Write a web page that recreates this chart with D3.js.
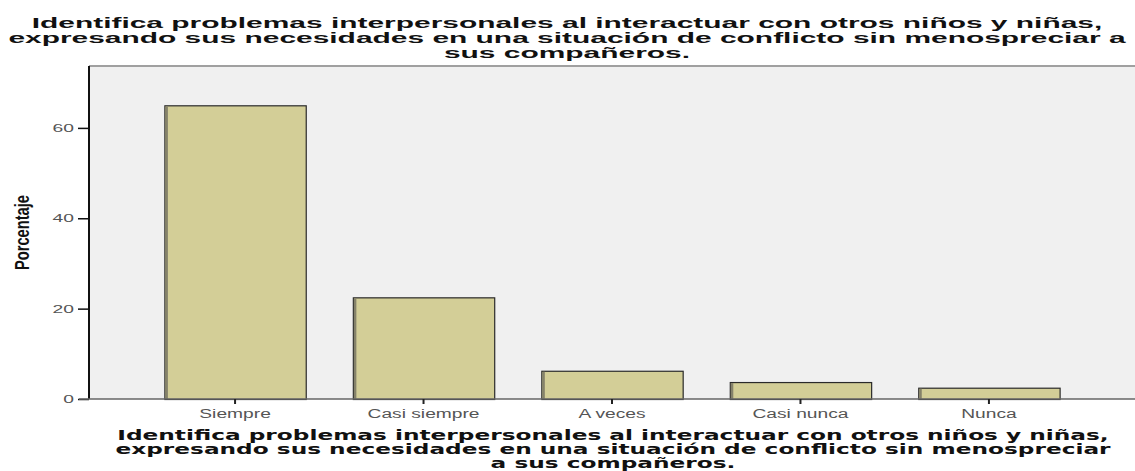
<!DOCTYPE html>
<html>
<head>
<meta charset="utf-8">
<script src="https://cdn.jsdelivr.net/npm/d3@7"></script>
<style>
  body { margin: 0; background: #fff; }
  svg { display: block; }
</style>
</head>
<body>
<svg id="chart" width="1135" height="471"></svg>
<script>
// Bar chart of percentages (SPSS style)

const categories = ['Siempre', 'Casi siempre', 'A veces', 'Casi nunca', 'Nunca']
const percentages = [65.0, 22.5, 6.25, 3.75, 2.5]
const yTicks = [0, 20, 40, 60]
const titleLines = [
  'Identifica problemas interpersonales al interactuar con otros niños y niñas,',
  'expresando sus necesidades en una situación de conflicto sin menospreciar a',
  'sus compañeros.'
]
const axisTitleLines = [
  'Identifica problemas interpersonales al interactuar con otros niños y niñas,',
  'expresando sus necesidades en una situación de conflicto sin menospreciar',
  'a sus compañeros.'
]
const yLabel = 'Porcentaje'

let svg = d3.select('#chart')

let plot = { left: 89, right: 1135, top: 66, bottom: 399 }

// Text in the picture is wider than the font: stretch it by k,
// and place it by hand ('middle' or 'end' relative to its x)
function stretch (sel, k, anchor) {
  sel.each(function () {
    let t = d3.select(this)
    let w = this.getComputedTextLength() * k
    let x0 = +t.attr('x') || 0
    let shift = anchor === 'middle' ? w / 2 : anchor === 'end' ? w : 0
    t.attr('text-anchor', 'start')
      .attr('x', x0 - shift)
      .attr('textLength', w)
      .attr('lengthAdjust', 'spacingAndGlyphs')
  })
}

let x = d3.scaleBand()
    .domain(categories)
    .range([plot.left, plot.right])
    .paddingInner(0.25)
    .paddingOuter(0.4)

let y = d3.scaleLinear()
    .domain([0, 73.7])
    .range([plot.bottom, plot.top])

// Background
svg.append('rect')
  .attr('x', plot.left)
  .attr('y', plot.top)
  .attr('width', plot.right - plot.left)
  .attr('height', plot.bottom - plot.top)
  .style('fill', '#f0f0f0')

svg.append('line')
  .attr('x1', plot.left)
  .attr('x2', plot.right)
  .attr('y1', plot.top)
  .attr('y2', plot.top)
  .style('stroke', '#a0a0a0')
  .style('stroke-width', 2)

// Bars
let bars = svg.append('g')

bars.selectAll('rect.bar')
  .data(percentages)
  .enter().append('rect')
  .attr('class', 'bar')
  .attr('x', (d, i) => x(categories[i]) + 0.5)
  .attr('y', d => y(d) + 0.5)
  .attr('width', x.bandwidth())
  .attr('height', d => plot.bottom - y(d))
  .style('fill', '#d3ce97')
  .style('stroke', '#2a2a2a')
  .style('stroke-width', 1.2)

bars.selectAll('rect.shade')
  .data(percentages)
  .enter().append('rect')
  .attr('class', 'shade')
  .attr('x', (d, i) => x(categories[i]) + 1)
  .attr('y', d => y(d) + 1)
  .attr('width', 2.5)
  .attr('height', d => plot.bottom - y(d) - 1)
  .style('fill', '#85826a')

// Axes
let yAxis = svg.append('g')
  .attr('transform', 'translate(' + plot.left + ',0)')
  .call(d3.axisLeft(y).tickValues(yTicks).tickSize(11).tickPadding(4))

yAxis.select('.domain')
  .attr('d', 'M0,' + plot.top + 'V' + plot.bottom)
  .style('stroke', '#111')
  .style('stroke-width', 2)
yAxis.selectAll('.tick line').style('stroke', '#111').style('stroke-width', 1.5)
yAxis.selectAll('.tick text')
  .style('font-family', 'Liberation Sans, Arial, sans-serif')
  .style('font-size', '11px')
  .style('fill', '#555')
stretch(yAxis.selectAll('.tick text'), 1.75, 'end')

let xAxis = svg.append('g')
  .attr('transform', 'translate(0,' + plot.bottom + ')')
  .call(d3.axisBottom(x).tickSize(5).tickPadding(5))

xAxis.select('.domain')
  .attr('d', 'M' + (plot.left - 10) + ',0H' + plot.right)
  .style('stroke', '#666')
  .style('stroke-width', 1.5)
xAxis.selectAll('.tick line').style('stroke', '#222').style('stroke-width', 2)
xAxis.selectAll('.tick text')
  .style('font-family', 'Liberation Sans, Arial, sans-serif')
  .style('font-size', '12px')
  .style('fill', '#555')
stretch(xAxis.selectAll('.tick text'), 1.6, 'middle')

// Y label
svg.append('text')
  .attr('transform', 'translate(29,' + ((plot.top + plot.bottom) / 2) + ') rotate(-90)')
  .attr('text-anchor', 'middle')
  .attr('textLength', 75)
  .attr('lengthAdjust', 'spacingAndGlyphs')
  .style('font-family', 'Liberation Sans, Arial, sans-serif')
  .style('font-weight', 'bold')
  .style('font-size', '21px')
  .style('fill', '#111')
  .text(yLabel)

// Title
let title = svg.append('g')
title.selectAll('text')
  .data(titleLines)
  .enter().append('text')
  .attr('x', 567)
  .attr('y', (d, i) => 28 + i * 15)
  .style('font-family', 'Liberation Sans, Arial, sans-serif')
  .style('font-weight', 'bold')
  .style('font-size', '15.5px')
  .style('fill', '#111')
  .text(d => d)
stretch(title.selectAll('text'), 1.93, 'middle')

// Axis title
let axisTitle = svg.append('g')
axisTitle.selectAll('text')
  .data(axisTitleLines)
  .enter().append('text')
  .attr('x', 613)
  .attr('y', (d, i) => 440 + i * 14)
  .style('font-family', 'DejaVu Sans, Verdana, sans-serif')
  .style('font-weight', 'bold')
  .style('font-size', '14px')
  .style('fill', '#111')
  .text(d => d)
stretch(axisTitle.selectAll('text'), 1.66, 'middle')
</script>
</body>
</html>
